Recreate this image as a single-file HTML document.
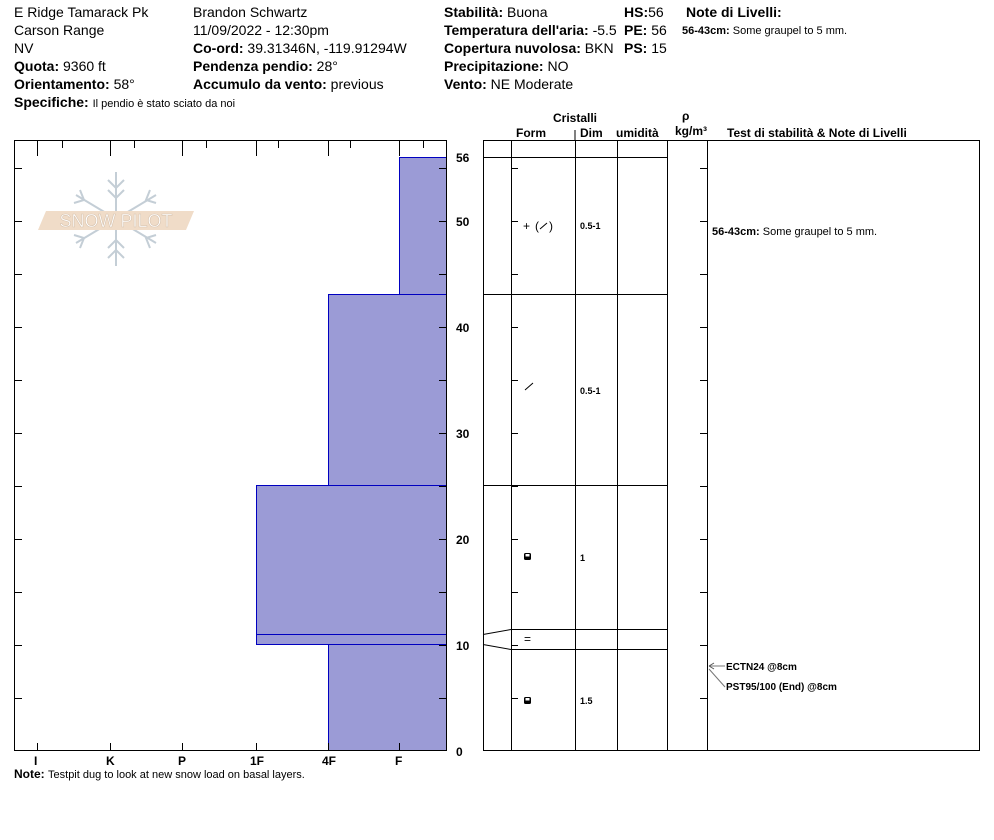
<!DOCTYPE html>
<html><head><meta charset="utf-8"><style>
body{margin:0;background:#fff;}
svg{display:block;font-family:"Liberation Sans",Arial,sans-serif;}
.b{font-weight:bold}
</style></head><body>
<svg width="994" height="840" viewBox="0 0 994 840" xmlns="http://www.w3.org/2000/svg">
<g font-size="14" fill="#000">
<text x="14" y="17">E Ridge Tamarack Pk</text>
<text x="14" y="35">Carson Range</text>
<text x="14" y="53">NV</text>
<text x="14" y="71"><tspan class="b">Quota:</tspan> 9360 ft</text>
<text x="14" y="89"><tspan class="b">Orientamento:</tspan> 58°</text>
<text x="14" y="107"><tspan class="b">Specifiche:</tspan> <tspan font-size="11">Il pendio è stato sciato da noi</tspan></text>
<text x="193" y="17">Brandon Schwartz</text>
<text x="193" y="35">11/09/2022 - 12:30pm</text>
<text x="193" y="53"><tspan class="b">Co-ord:</tspan> 39.31346N, -119.91294W</text>
<text x="193" y="71"><tspan class="b">Pendenza pendio:</tspan> 28°</text>
<text x="193" y="89"><tspan class="b">Accumulo da vento:</tspan> previous</text>
<text x="444" y="17"><tspan class="b">Stabilità:</tspan> Buona</text>
<text x="444" y="35"><tspan class="b">Temperatura dell'aria:</tspan> -5.5</text>
<text x="444" y="53"><tspan class="b">Copertura nuvolosa:</tspan> BKN</text>
<text x="444" y="71"><tspan class="b">Precipitazione:</tspan> NO</text>
<text x="444" y="89"><tspan class="b">Vento:</tspan>  NE Moderate</text>
<text x="624" y="17"><tspan class="b">HS:</tspan>56</text>
<text x="624" y="35"><tspan class="b">PE:</tspan> 56</text>
<text x="624" y="53"><tspan class="b">PS:</tspan> 15</text>
<text x="686" y="17" class="b">Note di Livelli:</text>
<text x="682" y="34" font-size="11"><tspan class="b">56-43cm:</tspan> Some graupel to 5 mm.</text>
</g>
<g font-size="12" font-weight="bold">
<text x="553" y="122">Cristalli</text>
<text x="516" y="137">Form</text>
<text x="580" y="137">Dim</text>
<text x="616" y="137">umidità</text>
<text x="682" y="120">ρ</text>
<text x="675" y="135">kg/m³</text>
<text x="727" y="137">Test di stabilità &amp; Note di Livelli</text>
</g>
<line x1="575" y1="130" x2="575" y2="140" stroke="#000"/>
<g stroke="#c4ced6" stroke-width="2" fill="none">
<line x1="116" y1="172" x2="116" y2="266"/>
<line x1="76" y1="195" x2="156" y2="243"/>
<line x1="156" y1="195" x2="76" y2="243"/>
<path d="M108 180l8 8 8-8M108 190l8 8 8-8M108 258l8-8 8 8M108 248l8-8 8 8"/>
<path d="M80 190l4 10-10 3M150 190l-4 10 10 3M80 248l4-10-10-3M150 248l-4-10 10-3"/>
</g>
<polygon points="46,211 194,211 186,230 38,230" fill="#f0dcc8"/>
<text x="116" y="227" font-size="18" fill="#fff" text-anchor="middle" stroke="#d8c4b0" stroke-width="0.6">SNOW PILOT</text>
<g fill="#9b9bd6" stroke="#0000c0" stroke-width="1">
<rect x="399.5" y="157.5" width="47" height="137"/>
<rect x="328.5" y="294.5" width="118" height="191"/>
<rect x="256.5" y="485.5" width="190" height="159"/>
<rect x="328.5" y="644.5" width="118" height="106"/>
<line x1="256" y1="634.5" x2="447" y2="634.5"/>
</g>
<rect x="14.5" y="140.5" width="432" height="610" fill="none" stroke="#000"/>
<g stroke="#000">
<path d="M37.5 140v16M110.5 140v16M182.5 140v16M256.5 140v16M328.5 140v16M399.5 140v16M62.5 140v8M134.5 140v8M206.5 140v8M278.5 140v8M350.5 140v8M423.5 140v8"/>
<path d="M37.5 751v-8M110.5 751v-8M182.5 751v-8M256.5 751v-8M328.5 751v-8M399.5 751v-8"/>
<path d="M14 698.5h8M14 645.5h8M14 592.5h8M14 539.5h8M14 486.5h8M14 433.5h8M14 380.5h8M14 327.5h8M14 274.5h8M14 221.5h8M14 168.5h8"/>
<path d="M447 698.5h-8M447 645.5h-8M447 592.5h-8M447 539.5h-8M447 486.5h-8M447 433.5h-8M447 380.5h-8M447 327.5h-8M447 274.5h-8M447 221.5h-8M447 168.5h-8"/>
</g>
<g font-size="12" font-weight="bold">
<text x="456" y="162">56</text>
<text x="456" y="226">50</text>
<text x="456" y="332">40</text>
<text x="456" y="438">30</text>
<text x="456" y="544">20</text>
<text x="456" y="650">10</text>
<text x="456" y="756">0</text>
<text x="34" y="765">I</text>
<text x="106" y="765">K</text>
<text x="178" y="765">P</text>
<text x="250" y="765">1F</text>
<text x="322" y="765">4F</text>
<text x="395" y="765">F</text>
</g>
<text x="14" y="778" font-size="12"><tspan class="b">Note:</tspan> <tspan font-size="11">Testpit dug to look at new snow load on basal layers.</tspan></text>
<rect x="483.5" y="140.5" width="496" height="610" fill="none" stroke="#000"/>
<g stroke="#000" fill="none">
<path d="M511.5 140v611M575.5 140v611M617.5 140v611M667.5 140v611M707.5 140v611"/>
<path d="M483 157.5h184M483 294.5h184M483 485.5h184M511 629.5h156M511 649.5h156"/>
<path d="M483 634.5L511 629.5M483 644.5L511 649.5"/>
<path d="M511 698.5h7M511 645.5h7M511 592.5h7M511 539.5h7M511 486.5h7M511 433.5h7M511 380.5h7M511 327.5h7M511 274.5h7M511 221.5h7M511 168.5h7"/>
<path d="M707 698.5h-7M707 645.5h-7M707 592.5h-7M707 539.5h-7M707 486.5h-7M707 433.5h-7M707 380.5h-7M707 327.5h-7M707 274.5h-7M707 221.5h-7M707 168.5h-7"/>
<path d="M540 229l7-6M525 390l8-7"/>
</g>
<g font-size="12">
<text x="523" y="230">+</text>
<text x="535" y="230">(</text>
<text x="549" y="230">)</text>
<text x="524" y="643">=</text>
</g>
<rect x="524" y="553" width="7" height="7" rx="1.5" fill="#000"/><rect x="525.5" y="554" width="4" height="2.5" fill="#fff"/>
<rect x="524" y="697" width="7" height="7" rx="1.5" fill="#000"/><rect x="525.5" y="698" width="4" height="2.5" fill="#fff"/>
<g font-size="9" font-weight="bold">
<text x="580" y="229">0.5-1</text>
<text x="580" y="394">0.5-1</text>
<text x="580" y="561">1</text>
<text x="580" y="704">1.5</text>
</g>
<text x="712" y="235" font-size="11"><tspan class="b">56-43cm:</tspan> Some graupel to 5 mm.</text>
<g stroke="#777" fill="none">
<path d="M709 666h16M709 669l16 18"/>
<path d="M709 666l5-3M709 666l5 3" stroke="#555"/>
</g>
<text x="726" y="670" font-size="10" font-weight="bold">ECTN24 @8cm</text>
<text x="726" y="690" font-size="10" font-weight="bold">PST95/100 (End) @8cm</text>
</svg>
</body></html>
